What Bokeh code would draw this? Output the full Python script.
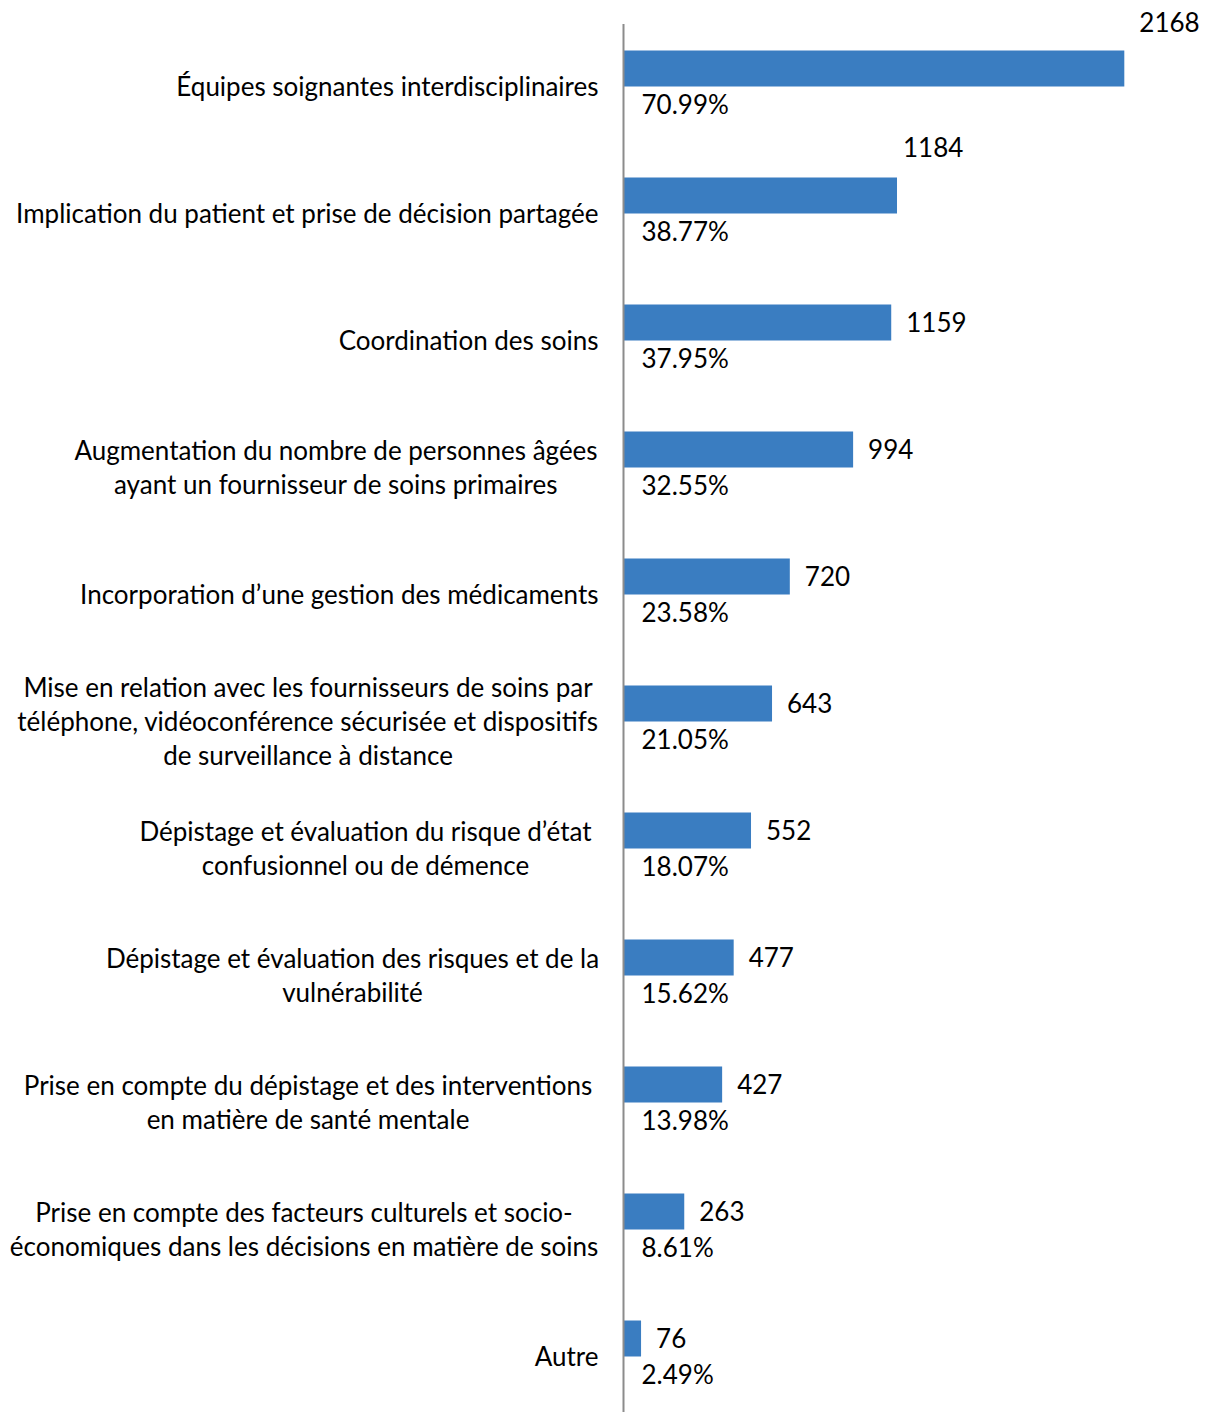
from bokeh.plotting import figure
from bokeh.models import ColumnDataSource, Range1d
from bokeh.core.properties import value
from bokeh.embed import file_html
from bokeh.resources import INLINE

# ---------------- data ----------------
categories = [
    "Équipes soignantes interdisciplinaires",
    "Implication du patient et prise de décision partagée",
    "Coordination des soins",
    "Augmentation du nombre de personnes âgées\nayant un fournisseur de soins primaires",
    "Incorporation d’une gestion des médicaments",
    "Mise en relation avec les fournisseurs de soins par\ntéléphone, vidéoconférence sécurisée et dispositifs\nde surveillance à distance",
    "Dépistage et évaluation du risque d’état\nconfusionnel ou de démence",
    "Dépistage et évaluation des risques et de la\nvulnérabilité",
    "Prise en compte du dépistage et des interventions\nen matière de santé mentale",
    "Prise en compte des facteurs culturels et socio-\néconomiques dans les décisions en matière de soins",
    "Autre",
]
counts = [2168, 1184, 1159, 994, 720, 643, 552, 477, 427, 263, 76]
percents = ["70.99%", "38.77%", "37.95%", "32.55%", "23.58%", "21.05%",
            "18.07%", "15.62%", "13.98%", "8.61%", "2.49%"]

# ---------------- layout / style ----------------
FONT = value("Lato")
FS = value("26px")
TEXT_COLOR = "#000000"
BAR_COLOR = "#3A7DC1"
AXIS_COLOR = "#8C8C8C"
W, H = 1208, 1412
X0 = 623             # screen px of value 0
PX_PER_UNIT = 0.231
ROW_PX = 127
ROW0_PX = 87
BAR_SHIFT = -19      # px, bar centre vs row centre
BAR_H = 36           # px
LINE_H = 34          # px, category label line spacing
LABEL_DY = -2        # px, vertical nudge of category labels
LABEL_RIGHT = -25    # px from axis, right edge of single-line labels
# centre (px from axis) of wrapped multi-line labels
WRAP_CENTER = {3: -287.5, 5: -315.5, 6: -258, 7: -271, 8: -315.5, 9: -319.5}
# special placement of count labels (dx, dy) px
COUNT_OFFSET = {0: (15, -47), 1: (6, -49)}
COUNT_DEFAULT = (15, -1)
PCT_OFFSET = (18, 16)

n = len(categories)
idx = list(range(n))

p = figure(width=W, height=H, output_backend="svg", toolbar_location=None,
           x_range=Range1d(-X0 / PX_PER_UNIT, (W - X0) / PX_PER_UNIT),
           y_range=Range1d((H - ROW0_PX) / ROW_PX, -ROW0_PX / ROW_PX),
           x_axis_type=None, y_axis_type=None, min_border=0,
           outline_line_color=None, background_fill_color="white",
           border_fill_color="white")
p.grid.visible = False

bar_y = [i + BAR_SHIFT / ROW_PX for i in idx]
p.hbar(y=bar_y, left=0, right=counts, height=BAR_H / ROW_PX,
       fill_color=BAR_COLOR, line_color=None)

# vertical category axis line
p.segment(x0=[0], y0=[-0.5], x1=[0], y1=[n - 0.5],
          line_color=AXIS_COLOR, line_width=2)

# count labels
cx_off = [COUNT_OFFSET.get(i, COUNT_DEFAULT)[0] for i in idx]
cy_off = [COUNT_OFFSET.get(i, COUNT_DEFAULT)[1] for i in idx]
p.text(x=counts, y=bar_y, text=[str(c) for c in counts],
       x_offset=cx_off, y_offset=cy_off,
       text_font=FONT, text_font_size=FS, text_color=TEXT_COLOR,
       text_align="left", text_baseline="middle")

# percentage labels
p.text(x=[0] * n, y=idx, text=percents,
       x_offset=PCT_OFFSET[0], y_offset=PCT_OFFSET[1],
       text_font=FONT, text_font_size=FS, text_color=TEXT_COLOR,
       text_align="left", text_baseline="middle")

# category labels (one glyph per line)
lx, ly, lt, lxo, lyo, la = [], [], [], [], [], []
for i, cat in enumerate(categories):
    lines = cat.split("\n")
    k = len(lines)
    for j, line in enumerate(lines):
        lx.append(0)
        ly.append(i)
        lt.append(line)
        lyo.append((j - (k - 1) / 2) * LINE_H + LABEL_DY)
        if k > 1:
            lxo.append(WRAP_CENTER[i])
            la.append("center")
        else:
            lxo.append(LABEL_RIGHT)
            la.append("right")
src = ColumnDataSource(dict(x=lx, y=ly, text=lt, xo=lxo, yo=lyo, align=la))
p.text(x="x", y="y", text="text", x_offset="xo", y_offset="yo",
       text_align="align", source=src,
       text_font=FONT, text_font_size=FS, text_color=TEXT_COLOR,
       text_baseline="middle")

open("out.html", "w").write(file_html(p, INLINE))
